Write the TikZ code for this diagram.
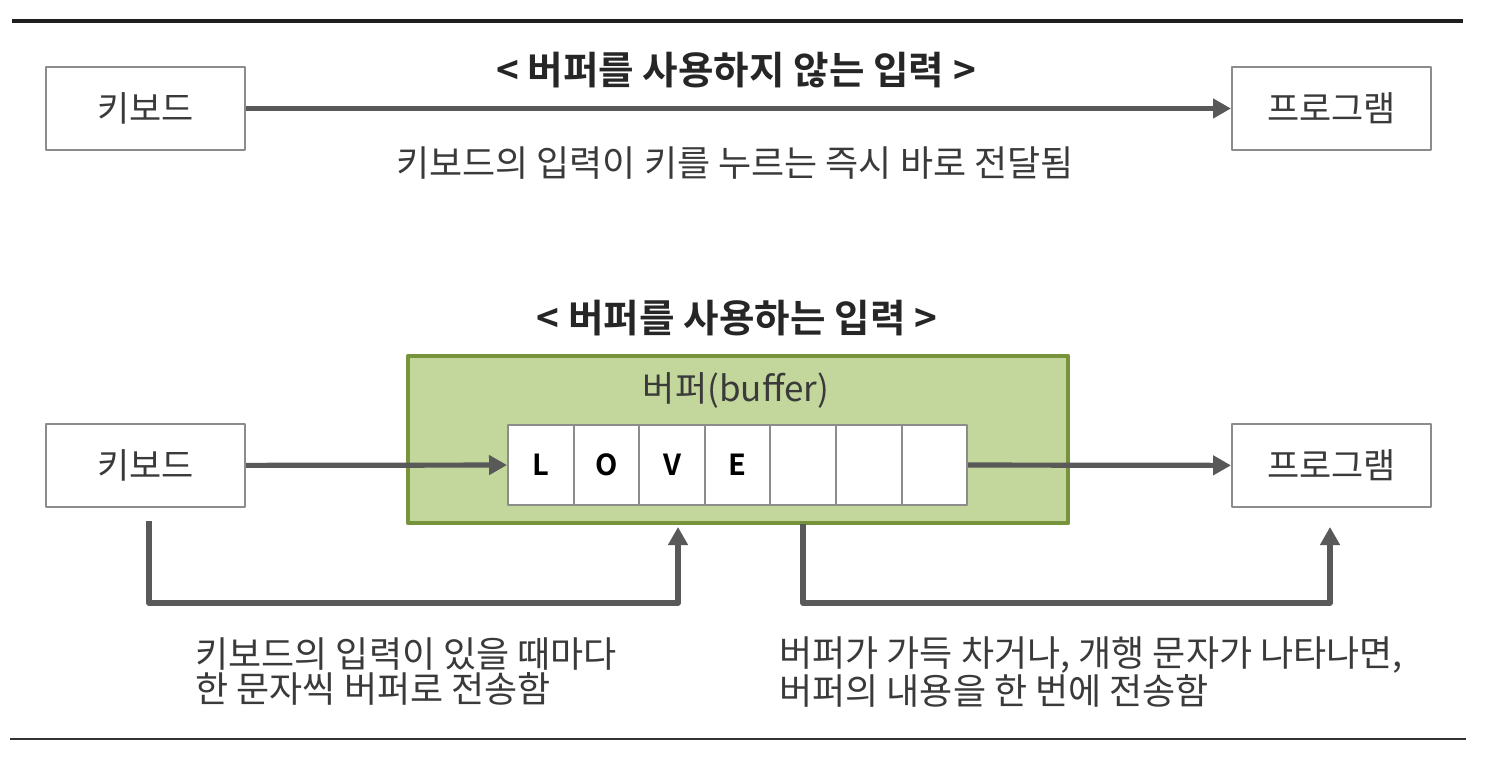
\documentclass[tikz,border=0pt]{standalone}
\usepackage{fontspec}
\setmainfont{Noto Sans CJK KR}[BoldFont={Noto Sans CJK KR Bold}]
\usetikzlibrary{arrows.meta,positioning}
\definecolor{linegray}{HTML}{595959}
\definecolor{boxgray}{HTML}{8C8C8C}
\definecolor{textgray}{HTML}{3A3A3A}
\definecolor{buffill}{HTML}{C3D69B}
\definecolor{bufdraw}{HTML}{77933C}
\tikzset{
	box/.style={draw=boxgray, line width=1pt, fill=white, minimum width=99.5pt, minimum height=41.5pt, inner sep=0pt, text=textgray, font=\fontsize{17.5}{18}\selectfont},
	cell/.style={draw=boxgray, line width=1pt, fill=white, minimum width=32.8pt, minimum height=40pt, inner sep=0pt, font=\fontsize{14.5}{16}\selectfont\bfseries},
	flow/.style={draw=linegray, line width=2.6pt, -{Triangle[length=9pt,width=9.5pt]}},
	heading/.style={font=\fontsize{19.3}{20}\selectfont\bfseries, text=black!85},
	note/.style={text=textgray, inner sep=0pt, align=left, font=\fontsize{18}{17.5}\selectfont}
}
\begin{document}
\begin{tikzpicture}[x=0.5pt, y=-0.5pt, line join=round, font=\fontsize{18}{19}\selectfont]

	\useasboundingbox (0,0) rectangle (1486,764);
	% rules at top and bottom
	\draw[line width=1.6pt, black!88] (12,21) -- (1463,21);
	\draw[line width=1.1pt, black!80] (10,739) -- (1466,739);

	% input without a buffer
	\node[heading] (t1) at (736,70) {< 버퍼를 사용하지 않는 입력 >};
	\node[box] (kb1) at (145.5,108.5) {키보드};
	\node[box] (pg1) at (1331.5,108.5) {프로그램};
	\draw[flow] (kb1) -- (pg1);
	\node[text=textgray] (d1) at (735,163) {키보드의 입력이 키를 누르는 즉시 바로 전달됨};

	% input with a buffer
	\node[heading] (t2) at (737,318) {< 버퍼를 사용하는 입력 >};
	\node[draw=bufdraw, line width=2.4pt, fill=buffill, minimum width=330pt, minimum height=83.5pt] (buf) at (738,439.5) {};
	\node[text=textgray, font=\fontsize{17.5}{18}\selectfont] (bl) at (736,390) {버퍼(buffer)};
	\foreach \ch [count=\i] in {L,O,V,E,{},{},{}} {
		\node[cell] (c\i) at ({540.8+65.6*(\i-1)},465) {\ch};
	}
	\node[box] (kb2) at (145.5,465.5) {키보드};
	\node[box] (pg2) at (1331.5,465.5) {프로그램};
	\draw[flow] (kb2) -- (c1);
	\draw[flow] (c7) -- (pg2);

	% elbow connectors
	\coordinate (kbout) at (149,521);
	\coordinate (bufin) at (678,527);
	\coordinate (bufout) at (803,524);
	\coordinate (pgin) at (1330,527);
	\draw[flow] (kbout) -- ++(0,82) -| (bufin);
	\draw[flow] (bufout) -- ++(0,79) -| (pgin);

	% explanations
	\node[note, anchor=west] (n1) at (195,672) {키보드의 입력이 있을 때마다\\한 문자씩 버퍼로 전송함};
	\node[note, anchor=west] (n2) at (779,672) {버퍼가 가득 차거나, 개행 문자가 나타나면,\\버퍼의 내용을 한 번에 전송함};

\end{tikzpicture}
\end{document}
